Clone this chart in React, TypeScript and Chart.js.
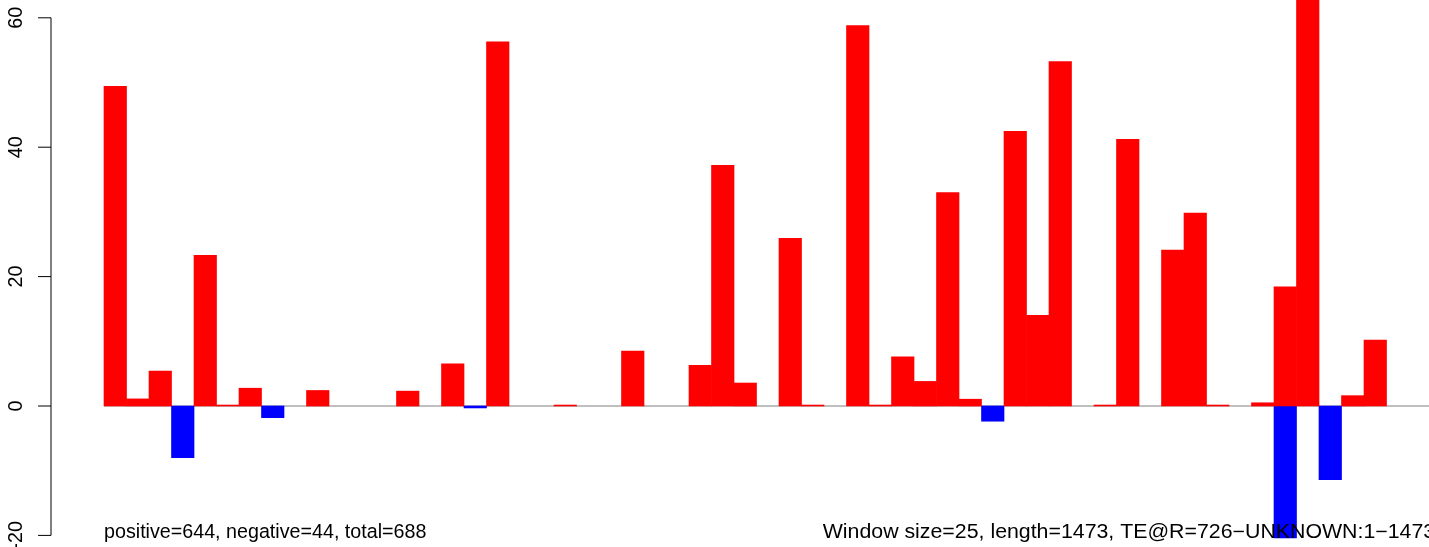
import React, { useEffect, useRef } from "react";
import { Chart, registerables } from "chart.js";

Chart.register(...registerables);

// ---- data ----
const windowIndex = [
  1, 2, 3, 4, 5, 6, 7, 8, 9, 10,
  11, 12, 13, 14, 15, 16, 17, 18, 19, 20,
  21, 22, 23, 24, 25, 26, 27, 28, 29, 30,
  31, 32, 33, 34, 35, 36, 37, 38, 39, 40,
  41, 42, 43, 44, 45, 46, 47, 48, 49, 50,
  51, 52, 53, 54, 55, 56, 57, 58, 59,
];

const positiveValues = [
  49.4, 1.1, 5.4, 0, 23.3, 0.15, 2.75, 0, 0, 2.4,
  0, 0, 0, 2.3, 0, 6.5, 0, 56.3, 0, 0,
  0.15, 0, 0, 8.5, 0, 0, 6.3, 37.2, 3.55, 0,
  25.9, 0.15, 0, 58.8, 0.15, 7.6, 3.8, 33.0, 1.05, 0,
  42.45, 14.0, 53.25, 0, 0.15, 41.2, 0, 24.1, 29.8, 0.15,
  0, 0.5, 18.4, 72.4, 0, 1.6, 10.2, 0, 0,
];

const negativeValues = [
  0, 0, 0, -8.0, 0, 0, 0, -1.8, 0, 0,
  0, 0, 0, 0, 0, 0, -0.3, 0, 0, 0,
  0, 0, 0, 0, 0, 0, 0, 0, 0, 0,
  0, 0, 0, 0, 0, 0, 0, 0, 0, -2.35,
  0, 0, 0, 0, 0, 0, 0, 0, 0, 0,
  0, 0, -20.4, 0, -11.4, 0, 0, 0, 0,
];

const yTicks = [-20, 0, 20, 40, 60];

const leftCaption = "positive=644, negative=44, total=688";
const rightCaption = "Window size=25, length=1473, TE@R=726\u2212UNKNOWN:1\u22121473";

// ---- layout / style ----
const WIDTH = 1429;
const HEIGHT = 547;
const PLOT_LEFT = 51;
const PX_PER_X = 22.5;
const X_MIN = -2.356;
const X_MAX = X_MIN + (WIDTH - PLOT_LEFT) / PX_PER_X;
const PX_PER_Y = 6.47;
const ZERO_Y = 406;
const Y_MAX = ZERO_Y / PX_PER_Y;
const Y_MIN = -(HEIGHT - ZERO_Y) / PX_PER_Y;
const FONT = '19.7px "Liberation Sans", Arial, Helvetica, sans-serif';
const RIGHT_CAPTION_X = 822.7;
const RIGHT_CAPTION_STRETCH = 1.083;
const CAPTION_BASELINE = 538;

const rPlotPlugin = {
  id: "rPlot",
  beforeDatasetsDraw(chart: any) {
    const { ctx, scales } = chart;
    const x = scales.x;
    const y = scales.y;
    ctx.save();
    ctx.strokeStyle = "#808080";
    ctx.lineWidth = 1;
    ctx.beginPath();
    const y0 = y.getPixelForValue(0);
    ctx.moveTo(x.getPixelForValue(windowIndex[0] - 1), y0);
    ctx.lineTo(x.getPixelForValue(windowIndex[windowIndex.length - 1]), y0);
    ctx.stroke();
    ctx.restore();
  },
  afterDraw(chart: any) {
    const { ctx, scales, chartArea } = chart;
    const x = scales.x;
    const y = scales.y;
    const axisX = chartArea.left;
    ctx.save();
    ctx.strokeStyle = "#000000";
    ctx.fillStyle = "#000000";
    ctx.lineWidth = 1;
    // axis line
    ctx.beginPath();
    ctx.moveTo(axisX, y.getPixelForValue(yTicks[0]));
    ctx.lineTo(axisX, y.getPixelForValue(yTicks[yTicks.length - 1]));
    ctx.stroke();
    // ticks + labels
    ctx.font = FONT;
    ctx.textAlign = "center";
    ctx.textBaseline = "alphabetic";
    for (const t of yTicks) {
      const py = y.getPixelForValue(t);
      ctx.beginPath();
      ctx.moveTo(axisX - 13, py);
      ctx.lineTo(axisX, py);
      ctx.stroke();
      ctx.save();
      ctx.translate(22, py);
      ctx.rotate(-Math.PI / 2);
      ctx.fillText(String(t), 0, 0);
      ctx.restore();
    }
    // captions
    ctx.textAlign = "left";
    ctx.fillText(leftCaption, x.getPixelForValue(windowIndex[0] - 1), CAPTION_BASELINE);
    ctx.save();
    ctx.translate(RIGHT_CAPTION_X, CAPTION_BASELINE);
    ctx.scale(RIGHT_CAPTION_STRETCH, 1);
    ctx.fillText(rightCaption, 0, 0);
    ctx.restore();
    ctx.restore();
  },
};

const inflateNonZero = (c: any) => {
  const v = c.raw && typeof c.raw === "object" ? c.raw.y : 0;
  return v === 0 ? 0 : 0.33;
};

export default function App() {
  const canvasRef = useRef<HTMLCanvasElement | null>(null);

  useEffect(() => {
    const canvas = canvasRef.current;
    if (!canvas) return;
    const chart = new Chart(canvas, {
      type: "bar",
      data: {
        datasets: [
          {
            label: "positive",
            data: windowIndex.map((w, i) => ({ x: w - 0.5, y: positiveValues[i] })),
            backgroundColor: "#ff0000",
            borderWidth: 0,
            inflateAmount: inflateNonZero,
            barPercentage: 1,
            categoryPercentage: 1,
          },
          {
            label: "negative",
            data: windowIndex.map((w, i) => ({ x: w - 0.5, y: negativeValues[i] })),
            backgroundColor: "#0000ff",
            borderWidth: 0,
            inflateAmount: inflateNonZero,
            barPercentage: 1,
            categoryPercentage: 1,
          },
        ],
      },
      options: {
        animation: false,
        responsive: false,
        devicePixelRatio: 1,
        events: [],
        layout: { padding: { left: PLOT_LEFT, right: 0, top: 0, bottom: 0 } },
        plugins: {
          legend: { display: false },
          tooltip: { enabled: false },
        },
        scales: {
          x: {
            type: "linear",
            min: X_MIN,
            max: X_MAX,
            stacked: true,
            display: false,
            offset: false,
          },
          y: {
            type: "linear",
            min: Y_MIN,
            max: Y_MAX,
            stacked: true,
            display: false,
          },
        },
      },
      plugins: [rPlotPlugin],
    } as any);
    return () => chart.destroy();
  }, []);

  return (
    <div
      style={{
        position: "absolute",
        left: 0,
        top: 0,
        width: WIDTH,
        height: HEIGHT,
        overflow: "hidden",
        background: "#ffffff",
      }}
    >
      <canvas
        ref={canvasRef}
        width={WIDTH}
        height={HEIGHT}
        style={{ display: "block", width: WIDTH, height: HEIGHT }}
      />
    </div>
  );
}
